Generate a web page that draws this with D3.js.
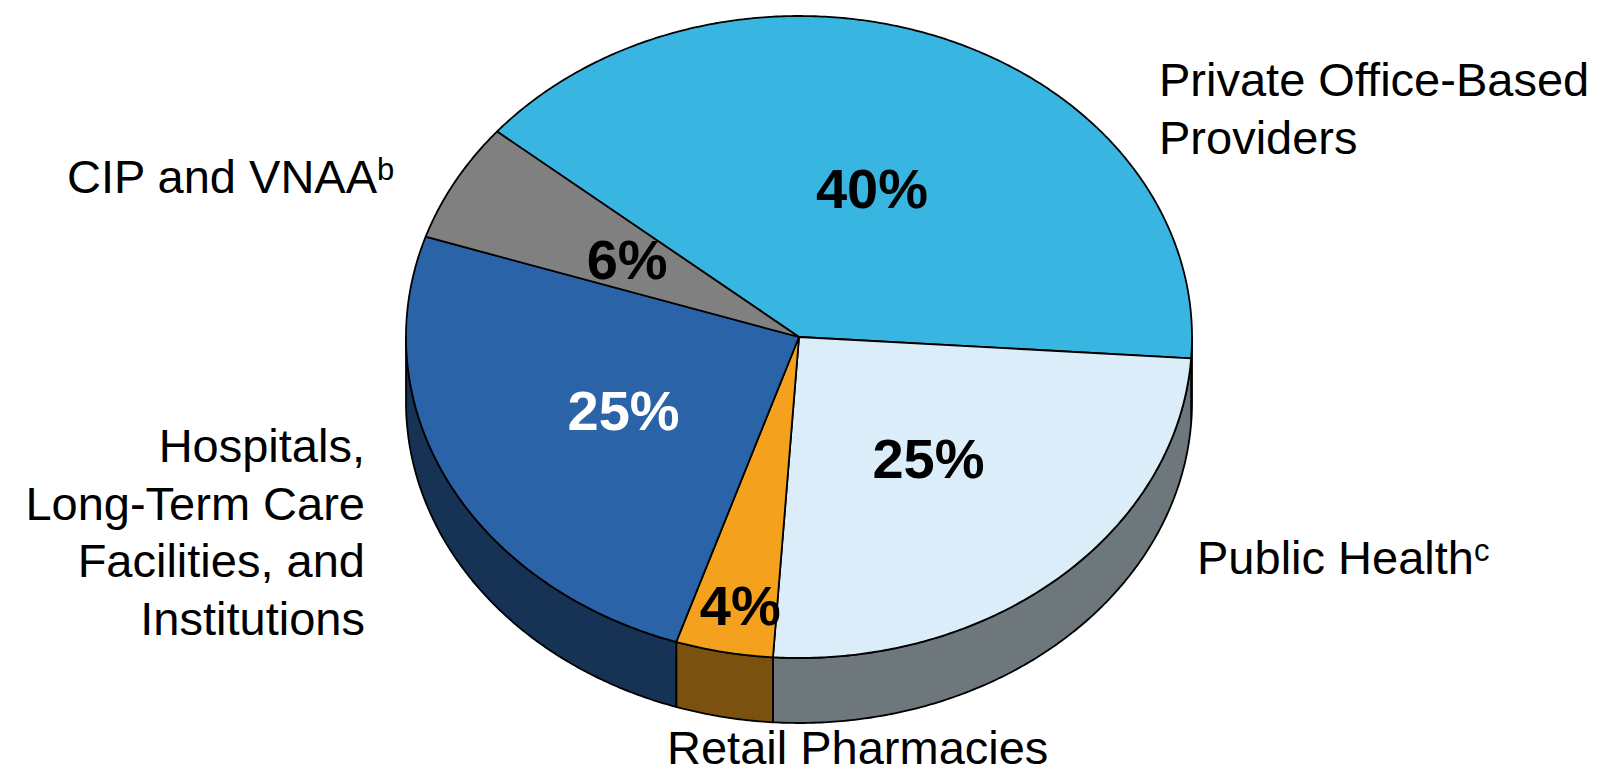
<!DOCTYPE html>
<html>
<head>
<meta charset="utf-8">
<script src="https://cdn.jsdelivr.net/npm/d3@7"></script>
<style>
  html, body { margin: 0; padding: 0; background: #ffffff; }
  svg { display: block; }
  text { font-family: "Liberation Sans", Arial, "Helvetica Neue", sans-serif; }
</style>
</head>
<body>
<svg id="chart" width="1601" height="774"></svg>
<script>
// ---- data ----
const categories = [
  "Private Office-Based Providers",
  "Public Health",
  "Retail Pharmacies",
  "Hospitals, Long-Term Care Facilities, and Institutions",
  "CIP and VNAA"
];
const values = [40, 25, 4, 25, 6];
const percentLabels = ["40%", "25%", "4%", "25%", "6%"];
const sliceColors = ["#38b5e1", "#daedf8", "#f4a21d", "#2b63a8", "#808080"];
const percentColors = ["#000000", "#000000", "#000000", "#ffffff", "#000000"];

// category label lines (text only) and superscripts
const labelLines = [
  ["Private Office-Based", "Providers"],
  ["Public Health"],
  ["Retail Pharmacies"],
  ["Hospitals,", "Long-Term Care", "Facilities, and", "Institutions"],
  ["CIP and VNAA"]
];
const labelSup = ["", "c", "", "", "b"];

// ---- layout (not data) ----
const W = 1601, H = 774;
const cx = 799, cy = 337, rx = 393, ry = 321, depth = 65;
const startDeg = -50.2;
const pctRadius = [0.5, 0.5, 0.85, 0.5, 0.5];
const pctShiftX = [0, 0, 5, 0, 0];
const labelLayout = [
  { x: 1159, y: 96, anchor: "start" },
  { x: 1197, y: 574, anchor: "start" },
  { x: 667, y: 764, anchor: "start" },
  { x: 365, y: 462, anchor: "end" },
  { x: 67, y: 193, anchor: "start" }
];
const lineStep = 57.5;

const svg = d3.select("#chart");

const start = startDeg * Math.PI / 180;
const pie = d3.pie().sort(null).value(d => d).startAngle(start).endAngle(start + 2 * Math.PI);
const arcs = pie(values).map((a, i) => ({ ...a, i }));

const px = a => cx + rx * Math.sin(a);
const py = (a, off = 0) => cy - ry * Math.cos(a) + off;

function arcPts(a0, a1, off) {
  const n = Math.max(2, Math.ceil(Math.abs(a1 - a0) / (Math.PI / 360)));
  return d3.range(n + 1).map(k => {
    const a = a0 + (a1 - a0) * k / n;
    return [px(a), py(a, off)];
  });
}
const line = d3.line();

function darken(c, f) {
  const r = d3.rgb(c);
  return d3.rgb(r.r * f, r.g * f, r.b * f).formatHex();
}

// ---- sides (front half) ----
const sideG = svg.append("g");
arcs.forEach(d => {
  const segs = [];
  for (const shift of [-2 * Math.PI, 0, 2 * Math.PI]) {
    const a0 = Math.max(d.startAngle + shift, Math.PI / 2);
    const a1 = Math.min(d.endAngle + shift, 3 * Math.PI / 2);
    if (a1 > a0 + 1e-6) segs.push([a0, a1]);
  }
  segs.forEach(([a0, a1]) => {
    const top = arcPts(a0, a1, 0);
    const bot = arcPts(a1, a0, depth);
    sideG.append("path")
      .attr("d", line(top.concat(bot)) + "Z")
      .attr("fill", darken(sliceColors[d.i], 0.5))
      .attr("stroke", "#000")
      .attr("stroke-width", 1.8)
      .attr("stroke-linejoin", "round");
  });
});

// ---- top faces ----
const topG = svg.append("g");
arcs.forEach(d => {
  const pts = [[cx, cy]].concat(arcPts(d.startAngle, d.endAngle, 0));
  topG.append("path")
    .attr("d", line(pts) + "Z")
    .attr("fill", sliceColors[d.i])
    .attr("stroke", "#000")
    .attr("stroke-width", 1.8)
    .attr("stroke-linejoin", "round");
});

// ---- percent labels ----
const pctG = svg.append("g");
arcs.forEach(d => {
  const mid = (d.startAngle + d.endAngle) / 2;
  const k = pctRadius[d.i];
  const x = cx + rx * k * Math.sin(mid) + pctShiftX[d.i];
  const y = cy - ry * k * Math.cos(mid);
  pctG.append("text")
    .attr("x", x)
    .attr("y", y)
    .attr("dy", "0.36em")
    .attr("text-anchor", "middle")
    .attr("font-size", 56)
    .attr("font-weight", "bold")
    .attr("fill", percentColors[d.i])
    .text(percentLabels[d.i]);
});

// ---- category labels ----
const labG = svg.append("g");
labelLines.forEach((lines, i) => {
  const L = labelLayout[i];
  lines.forEach((t, j) => {
    const txt = labG.append("text")
      .attr("x", L.x)
      .attr("y", L.y + j * lineStep)
      .attr("text-anchor", L.anchor)
      .attr("font-size", 47)
      .attr("fill", "#000");
    txt.append("tspan").text(t);
    if (j === lines.length - 1 && labelSup[i]) {
      txt.append("tspan")
        .attr("font-size", 31)
        .attr("dy", -13)
        .text(labelSup[i]);
    }
  });
});
</script>
</body>
</html>
